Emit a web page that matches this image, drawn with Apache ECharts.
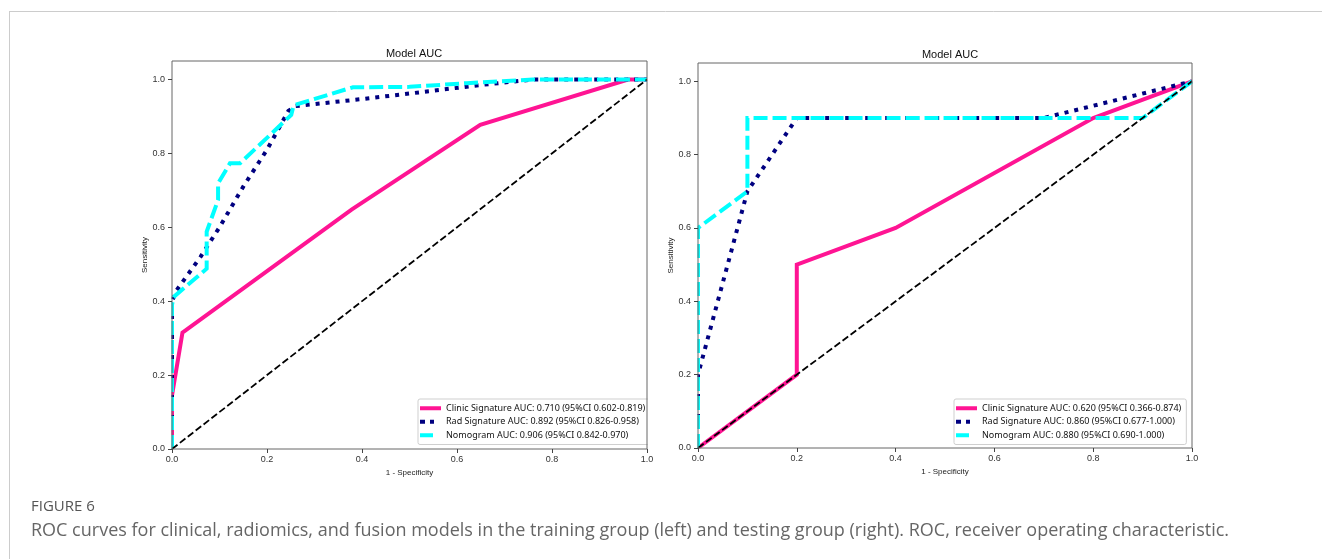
<!DOCTYPE html>
<html>
<head>
<meta charset="utf-8">
<script src="https://cdn.jsdelivr.net/npm/echarts@6/dist/echarts.min.js"></script>
<style>
html,body{margin:0;padding:0;background:#fff;}
#c{width:1322px;height:559px;}
</style>
</head>
<body>
<div id="c"></div>
<script>
// ---------- data ----------
const tickValues = [0, 0.2, 0.4, 0.6, 0.8, 1.0];
const panelTitles = ['Model AUC', 'Model AUC'];
const xName = '1 - Specificity';
const yName = 'Sensitivity';

const leftNames = [
  'Clinic Signature AUC: 0.710 (95%CI 0.602-0.819)',
  'Rad Signature AUC: 0.892 (95%CI 0.826-0.958)',
  'Nomogram AUC: 0.906 (95%CI 0.842-0.970)'
];
const rightNames = [
  'Clinic Signature AUC: 0.620 (95%CI 0.366-0.874)',
  'Rad Signature AUC: 0.860 (95%CI 0.677-1.000)',
  'Nomogram AUC: 0.880 (95%CI 0.690-1.000)'
];

// training (left)
const trainClinicFpr = [0, 0, 0.022, 0.378, 0.649, 0.96, 1];
const trainClinicTpr = [0, 0.145, 0.315, 0.648, 0.877, 1, 1];
const trainRadFpr = [0, 0, 0.01, 0.06, 0.10, 0.15, 0.20, 0.245, 0.26, 0.40, 0.52, 0.65, 0.76, 1];
const trainRadTpr = [0, 0.40, 0.43, 0.52, 0.60, 0.71, 0.81, 0.915, 0.928, 0.947, 0.965, 0.985, 1, 1];
const trainNomoFpr = [0, 0, 0.003, 0.073, 0.073, 0.097, 0.097, 0.122, 0.143, 0.251, 0.256, 0.381, 0.50, 0.62, 0.76, 1];
const trainNomoTpr = [0, 0.39, 0.411, 0.488, 0.588, 0.674, 0.719, 0.773, 0.773, 0.904, 0.93, 0.979, 0.98, 0.99, 1, 1];

// testing (right)
const testClinicFpr = [0, 0.2, 0.2, 0.4, 0.8, 1];
const testClinicTpr = [0, 0.2, 0.5, 0.6, 0.9, 1];
const testRadFpr = [0, 0, 0.1, 0.2, 0.7, 1];
const testRadTpr = [0, 0.2, 0.7, 0.9, 0.9, 1];
const testNomoFpr = [0, 0, 0.1, 0.1, 0.9, 1];
const testNomoTpr = [0, 0.6, 0.7, 0.9, 0.9, 1];

const diagFpr = [0, 1];
const diagTpr = [0, 1];

const figureLabel = 'FIGURE 6';
const captionText = 'ROC curves for clinical, radiomics, and fusion models in the training group (left) and testing group (right). ROC, receiver operating characteristic.';

// ---------- build ----------
const zip = (a, b) => a.map((v, i) => [v, b[i]]);
const COL_CLINIC = '#FF1493', COL_RAD = '#000080', COL_NOMO = '#00FFFF';
const tickFont = 'Liberation Sans, Arial, sans-serif';

const G = [
  {left: 172, top: 61, width: 475, height: 388},
  {left: 698, top: 63, width: 494, height: 385}
];

function xAx(gi) {
  return {
    type: 'value', gridIndex: gi, min: 0, max: 1, z: 10,
    name: xName, nameLocation: 'middle', nameGap: 11,
    nameTextStyle: {fontSize: 8, color: '#222', fontFamily: tickFont},
    axisLine: {show: false},
    axisTick: {show: true, length: 4, lineStyle: {color: '#444'}, customValues: tickValues},
    axisLabel: {fontSize: 9, color: '#333', margin: 6, fontFamily: tickFont,
      customValues: tickValues, formatter: v => v.toFixed(1)},
    splitLine: {show: false}
  };
}
function yAx(gi, gap) {
  return {
    type: 'value', gridIndex: gi, min: 0, max: 1.05, z: 10,
    name: yName, nameLocation: 'middle', nameGap: gap,
    nameTextStyle: {fontSize: 8, color: '#222', fontFamily: tickFont},
    axisLine: {show: false},
    axisTick: {show: true, length: 4, lineStyle: {color: '#444'}, customValues: tickValues},
    axisLabel: {fontSize: 9, color: '#333', margin: 7, fontFamily: tickFont,
      customValues: tickValues, formatter: v => v.toFixed(1)},
    splitLine: {show: false}
  };
}
function lineSeries(name, fpr, tpr, gi, color, type, width, z) {
  return {
    name: name, type: 'line', xAxisIndex: gi, yAxisIndex: gi,
    data: zip(fpr, tpr), showSymbol: false, symbol: 'none', silent: true,
    animation: false, z: z,
    lineStyle: {color: color, width: width, type: type, cap: 'butt', join: 'miter'},
    itemStyle: {color: color}
  };
}

const series = [];
[[0, leftNames, [trainClinicFpr, trainClinicTpr], [trainRadFpr, trainRadTpr], [trainNomoFpr, trainNomoTpr]],
 [1, rightNames, [testClinicFpr, testClinicTpr], [testRadFpr, testRadTpr], [testNomoFpr, testNomoTpr]]]
.forEach(([gi, names, c, r, n]) => {
  series.push(lineSeries(names[0], c[0], c[1], gi, COL_CLINIC, 'solid', 4, 2));
  series.push(lineSeries(names[1], r[0], r[1], gi, COL_RAD, [4, 6], 4, 3));
  series.push(lineSeries(names[2], n[0], n[1], gi, COL_NOMO, [14, 5], 4, 4));
  series.push(lineSeries('diag' + gi, diagFpr, diagTpr, gi, '#000', [7, 3], 1.8, 5));
});

const ICON_SOLID = 'path://M0,0h21v4h-21z';
const ICON_DOTS = 'path://M0,0h5v4h-5zM10,0h4v4h-4zM21,0L21,4L21,4z';
const ICON_DASH = 'path://M0,0h13v4h-13zM21,0L21,4L21,4z';

function legendCfg(names, left) {
  const icons = [ICON_SOLID, ICON_DOTS, ICON_DASH];
  const cols = [COL_CLINIC, COL_RAD, COL_NOMO];
  return {
    data: names.map((nm, i) => ({name: nm, icon: icons[i],
      itemStyle: {color: cols[i], borderWidth: 0, decal: 'none'}})),
    orient: 'vertical', left: left, top: 399,
    itemWidth: 21, itemHeight: 4, itemGap: 1,
    padding: [3, 5, 3, 2],
    borderColor: '#cfcfcf', borderWidth: 1, borderRadius: 2,
    backgroundColor: '#fff',
    textStyle: {fontSize: 9, color: '#111', fontFamily: 'Noto Sans, sans-serif', lineHeight: 12.5},
    selectedMode: false
  };
}

const whiteStrips = [];
G.forEach(g => {
  const L = g.left, T = g.top, R = g.left + g.width, B = g.top + g.height;
  whiteStrips.push({type: 'rect', z: 6, silent: true, shape: {x: L - 5, y: T - 5, width: 4.4, height: g.height + 10}, style: {fill: '#fff'}});
  whiteStrips.push({type: 'rect', z: 6, silent: true, shape: {x: R + 0.6, y: T - 5, width: 4.4, height: g.height + 10}, style: {fill: '#fff'}});
  whiteStrips.push({type: 'rect', z: 6, silent: true, shape: {x: L - 5, y: B + 0.6, width: g.width + 10, height: 4}, style: {fill: '#fff'}});
});

const option = {
  animation: false,
  backgroundColor: '#fff',
  title: [
    {text: panelTitles[0], left: 409, top: 43, textAlign: 'center',
     textStyle: {fontSize: 11, fontWeight: 'normal', color: '#111', fontFamily: tickFont}},
    {text: panelTitles[1], left: 945, top: 44, textAlign: 'center',
     textStyle: {fontSize: 11, fontWeight: 'normal', color: '#111', fontFamily: tickFont}},
    {text: figureLabel, left: 26, top: 494,
     textStyle: {fontSize: 15, fontWeight: 'normal', color: '#555', fontFamily: 'Open Sans, sans-serif'}},
    {text: captionText, left: 26, top: 517,
     textStyle: {fontSize: 18, fontWeight: 'normal', color: '#666', fontFamily: 'Open Sans, sans-serif'}}
  ],
  grid: G.map(g => Object.assign({show: true, borderColor: '#666', borderWidth: 1, backgroundColor: 'transparent', containLabel: false, z: 7}, g)),
  xAxis: [xAx(0), xAx(1)],
  yAxis: [yAx(0, 9), yAx(1, 23)],
  legend: [legendCfg(leftNames, 418), legendCfg(rightNames, 954)],
  graphic: [
    {type: 'line', shape: {x1: 9, y1: 11.5, x2: 1322, y2: 11.5}, style: {stroke: '#cccccc', lineWidth: 1}, silent: true},
    {type: 'line', shape: {x1: 9.5, y1: 11, x2: 9.5, y2: 559}, style: {stroke: '#cccccc', lineWidth: 1}, silent: true}
  ].concat(whiteStrips),
  series: series
};

const chart = echarts.init(document.getElementById('c'), null, {renderer: 'canvas'});
chart.setOption(option);
</script>
</body>
</html>
